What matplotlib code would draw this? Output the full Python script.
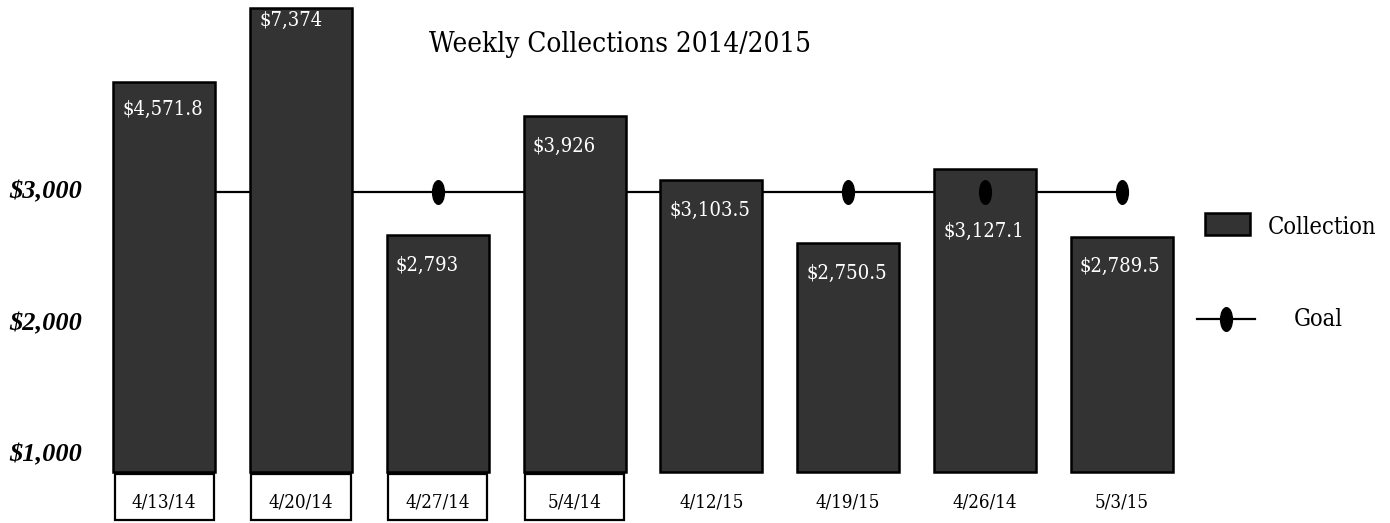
import numpy as np
import matplotlib
matplotlib.use("Agg")
import matplotlib.pyplot as plt
from matplotlib.patches import Rectangle
from matplotlib.lines import Line2D
from matplotlib.path import Path
from matplotlib.transforms import Affine2D, blended_transform_factory

# data
weeks = ["4/13/14", "4/20/14", "4/27/14", "5/4/14", "4/12/15", "4/19/15", "4/26/14", "5/3/15"]
amount_labels = ["$4,571.8", "$7,374", "$2,793", "$3,926", "$3,103.5", "$2,750.5", "$3,127.1", "$2,789.5"]
# bar tops as drawn, measured against the $1,000 / $2,000 / $3,000 axis
bar_tops = [3836, 4400, 2673, 3578, 3091, 2612, 3175, 2658]
bar_base = 871
goal = 3000
goal_marker_shown = [False, False, True, False, False, True, True, True]
week_boxed = [True, True, True, True, False, False, False, False]
yticks = [1000, 2000, 3000]
ytick_labels = ["$1,000", "$2,000", "$3,000"]

# label drop below the bar top, in points (layout only)
label_drop = [20, 9, 22, 22, 22, 22, 45, 21]

cond = dict(family="DejaVu Serif", stretch="condensed")
bar_col = "#333333"
W = 0.745

fig = plt.figure(figsize=(13.9, 5.23), dpi=100)
ax = fig.add_axes([0, 0, 1, 1])
ax.set_xlim(-1.2, 8.96)
ax.set_ylim(483, 4460)
ax.axis("off")

x = np.arange(len(weeks))
heights = np.array(bar_tops) - bar_base

# goal line behind the bars
ax.plot(x, [goal] * len(x), color="black", lw=1.6, zorder=1)
ax.bar(x, heights, bottom=bar_base, width=W, color=bar_col,
       edgecolor="black", linewidth=1.8, zorder=2)

ellipse = Path.unit_circle().transformed(Affine2D().scale(0.5, 1.0))
gm = np.array(goal_marker_shown)
ax.plot(x[gm], [goal] * gm.sum(), linestyle="none", marker=ellipse,
        markersize=17, color="black", zorder=3)

# value labels inside the bars
for i, lab in enumerate(amount_labels):
    ax.annotate(lab, (x[i] - W / 2, bar_tops[i]), xytext=(6.5, -label_drop[i]),
                textcoords="offset points", ha="left", va="center",
                color="white", fontsize=14.5, zorder=4, **cond)

# week labels, first four in boxes
trans_b = blended_transform_factory(ax.transData, ax.transAxes)
for i, wk in enumerate(weeks):
    if week_boxed[i]:
        ax.add_patch(Rectangle((x[i] - W / 2 + 0.01, 0.006), W - 0.02, 0.088,
                               transform=trans_b, facecolor="white",
                               edgecolor="black", lw=1.6, zorder=2))
    ax.text(x[i], 0.04, wk, transform=trans_b, ha="center", va="center",
            fontsize=13.5, color="black", zorder=3, **cond)

# y labels
trans_y = blended_transform_factory(ax.transAxes, ax.transData)
for v, t in zip(yticks, ytick_labels):
    ax.text(0.033, v, t, transform=trans_y, ha="center", va="center",
            fontsize=19, fontweight="bold", style="italic",
            family="Liberation Serif")

fig.text(620 / 1390, 1 - 45 / 523, "Weekly Collections 2014/2015",
         ha="center", va="center", fontsize=20, **cond)

# legend
fig.add_artist(Rectangle((1205 / 1390, 1 - 235 / 523), 45 / 1390, 22 / 523,
                         transform=fig.transFigure, facecolor=bar_col,
                         edgecolor="black", lw=1.8))
fig.text(1322 / 1390, 1 - 228 / 523, "Collection", ha="center", va="center",
         fontsize=17, **cond)
fig.add_artist(Line2D(np.array([1197, 1226, 1255]) / 1390, [1 - 319 / 523] * 3,
                      transform=fig.transFigure, color="black", lw=1.6,
                      marker=ellipse, markersize=17, markevery=[1]))
fig.text(1318 / 1390, 1 - 319 / 523, "Goal", ha="center", va="center",
         fontsize=17, **cond)

fig.savefig("out.png", dpi=100)
